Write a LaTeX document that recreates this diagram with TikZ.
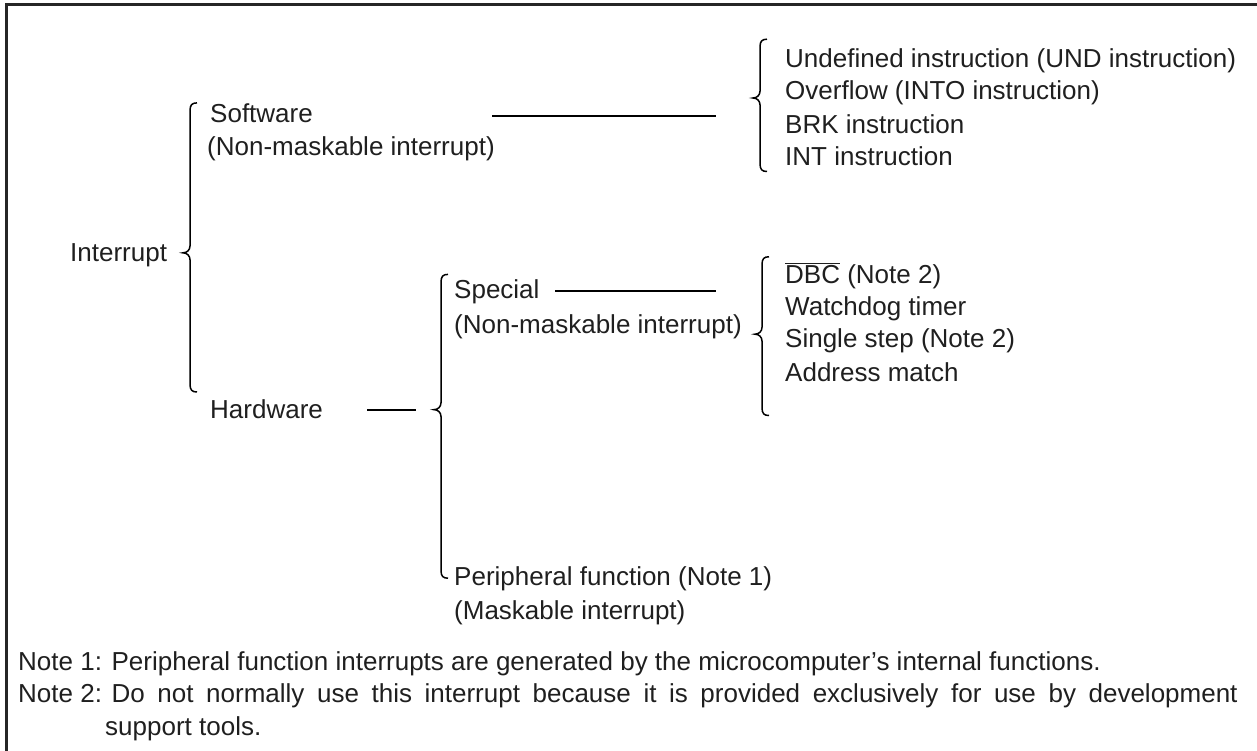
\documentclass[tikz,border=0pt]{standalone}
\usepackage{fontspec}
\setmainfont{Liberation Sans}
\newcommand\drawbrace[4]{% x, ytop, ytip, ybottom
  \draw[brc] (#1+7,#2) .. controls (#1+2,#2) and (#1,#2+2) .. (#1,#2+8)
    -- (#1,#3-7) .. controls (#1,#3-3) and (#1-3,#3) .. (#1-7,#3)
    .. controls (#1-3,#3) and (#1,#3+3) .. (#1,#3+7)
    -- (#1,#4-8) .. controls (#1,#4-2) and (#1+2,#4) .. (#1+7,#4);}
\begin{document}
\begin{tikzpicture}[x=1pt,y=-0.98pt,
  lbl/.style={anchor=base west,inner sep=0pt,font=\fontsize{26}{31}\selectfont,text=black!88},
  conn/.style={line width=1.8pt},
  brc/.style={line width=1.5pt},
  frame/.style={line width=3pt,draw=black!85}]
\useasboundingbox (0,0) rectangle (1257,766.33);
\draw[frame] (6,772) -- (6,4.1) -- (1257,4.1);

% level 0
\node[lbl] (int) at (70,267) {Interrupt};
% level 1
\node[lbl] (sw)  at (210,125) {Software};
\node[lbl] (swn) at (207,159) {(Non-maskable interrupt)};
\node[lbl] (hw)  at (210,427) {Hardware};
% level 2
\node[lbl] (sp)  at (454,305) {Special};
\node[lbl] (spn) at (454,340) {(Non-maskable interrupt)};
\node[lbl] (pf)  at (454,597) {Peripheral function (Note 1)};
\node[lbl] (pfn) at (454,632) {(Maskable interrupt)};
% software list
\node[lbl] (s1) at (785,69)  {Undefined instruction (UND instruction)};
\node[lbl] (s2) at (785,102) {Overflow (INTO instruction)};
\node[lbl] (s3) at (785,136) {BRK instruction};
\node[lbl] (s4) at (785,169) {INT instruction};
% special list
\node[lbl] (h1) at (785,289) {$\overline{\hbox{DBC}}$ (Note 2)};
\node[lbl] (h2) at (785,322) {Watchdog timer};
\node[lbl] (h3) at (785,355) {Single step (Note 2)};
\node[lbl] (h4) at (785,389) {Address match};
% notes
\node[lbl] (n1) at (18,684) {Note 1: Peripheral function interrupts are generated by the microcomputer's internal functions.};
\node[lbl] (n2) at (18,717) {Note 2: \makebox[1126pt][s]{Do not normally use this interrupt because it is provided exclusively for use by development}};
\node[lbl] (n3) at (105,750) {support tools.};

% connectors
\coordinate (swa) at (492,118);
\coordinate (swb) at (716,118);
\coordinate (hwa) at (367,418);
\coordinate (hwb) at (416,418);
\coordinate (spa) at (555,297);
\coordinate (spb) at (716,297);
\draw[conn] (swa) -- (swb);
\draw[conn] (hwa) -- (hwb);
\draw[conn] (spa) -- (spb);

% braces
\drawbrace{190}{105}{258}{400}
\drawbrace{760}{40}{100}{175}
\drawbrace{441}{280}{418}{590}
\drawbrace{762}{262}{341}{424}
\end{tikzpicture}
\end{document}
